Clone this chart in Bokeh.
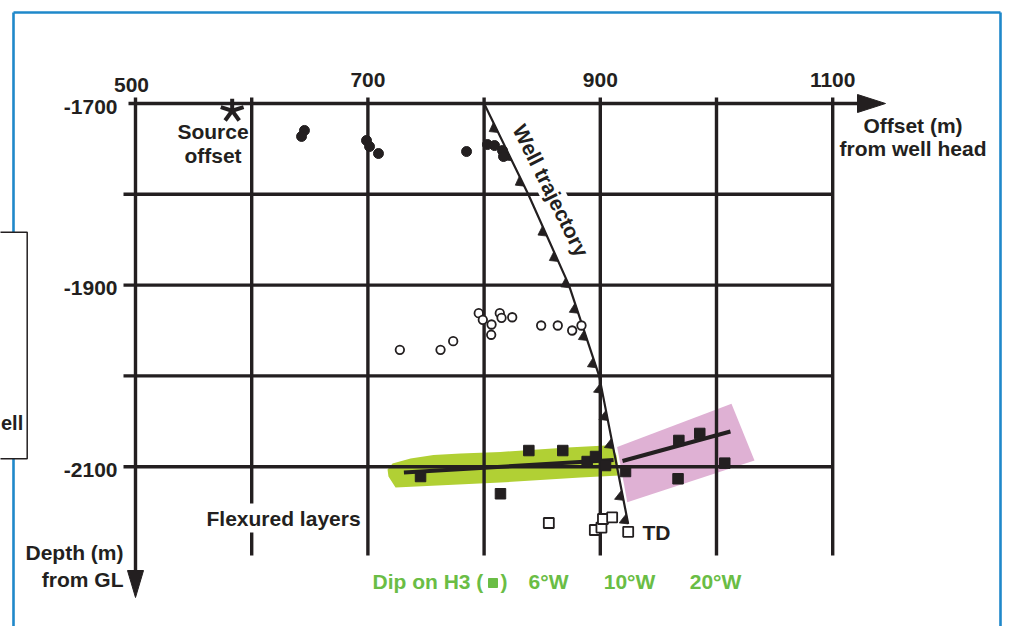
import numpy as np
from bokeh.plotting import figure
from bokeh.models import Range1d
from bokeh.embed import file_html
from bokeh.resources import INLINE
from bokeh.core.properties import value

# ---------------- data ----------------
x_grid = [500, 600, 700, 800, 900, 1000, 1100]          # offset grid (m)
y_grid = [-1700, -1800, -1900, -2000, -2100]             # depth grid (m)
x_label_vals = [500, 700, 900, 1100]
x_tick_labels = ["500", "700", "900", "1100"]
y_label_vals = [-1700, -1900, -2100]
y_tick_labels = ["-1700", "-1900", "-2100"]

source_x = [583.2]
source_y = [-1708.0]

# filled dots (shallow events)
dots_x = [645.4, 642.9, 698.8, 701.4, 709.1, 784.9, 802.9, 809.0, 815.8, 816.7]
dots_y = [-1729.7, -1736.3, -1740.7, -1747.4, -1755.1, -1752.9, -1745.2, -1746.3, -1751.8, -1758.4]

# open circles
circ_x = [727.5, 762.5, 773.4, 795.4, 798.9, 806.4, 806.1, 813.5, 815.0, 824.2, 849.1, 863.4, 875.8, 883.8]
circ_y = [-1971.3, -1971.3, -1961.8, -1930.9, -1938.2, -1943.4, -1954.7, -1930.9, -1936.0, -1935.4,
          -1944.5, -1944.5, -1950.0, -1944.5]

# filled squares (H3 reflection points)
h3_x = [745.3, 814.1, 838.5, 867.7, 888.7, 895.9, 904.5, 921.7, 967.6, 985.6, 1007.1, 966.9]
h3_y = [-2110.8, -2129.8, -2082.2, -2082.2, -2094.3, -2088.8, -2098.7, -2105.3, -2071.1, -2063.4,
        -2096.1, -2113.3]

# open squares (deep)
osq_x = [855.7, 895.3, 901.0, 902.3, 910.2, 924.0]
osq_y = [-2162.0, -2169.7, -2167.0, -2157.6, -2155.9, -2171.7]

# well trajectory
traj_x = [800, 838, 873, 899, 924]
traj_y = [-1700, -1800, -1900, -2000, -2163]
receiver_depths = [-1732, -1763, -1791, -1846, -1874, -1903, -1931, -1961, -1991,
                   -2019, -2049, -2080, -2137, -2163]

# dip fits
green_fit_x = [731.0, 911.4]
green_fit_y = [-2106.4, -2092.6]
pink_fit_x = [919.1, 1012.0]
pink_fit_y = [-2093.7, -2061.2]

green_band_x = [716.9, 721.2, 736.7, 756.5, 779.7, 814.1, 871.8, 904.5, 910.5, 913.9, 916.5, 883.0, 814.1, 723.8, 717.7]
green_band_y = [-2103.1, -2096.5, -2091.0, -2087.1, -2085.5, -2083.8, -2078.9, -2076.7, -2078.9, -2087.7,
                -2109.7, -2111.9, -2117.4, -2122.9, -2110.8]
pink_band_x = [914.5, 1012.9, 1032.7, 923.2]
pink_band_y = [-2078.3, -2030.7, -2093.2, -2139.1]

# ---------------- layout ----------------
W, H = 1004, 626
SX = 1.162   # px per metre (x)
SY = 0.908   # px per metre (y)
OFFX, OFFY = 0, 0
X0 = 500 - (135 - OFFX) / SX
X1 = X0 + W / SX
YT = -1700 + (103 - OFFY) / SY
YB = YT - H / SY


def ypx(py):
    """depth position of a reference pixel row (layout helper for labels)"""
    return -1700 - (py - 103) / SY


def xpx(px):
    return 500 + (px - 135) / SX


BLACK = "#231f20"
GREEN_TXT = "#6abd45"
FONT = value("Liberation Sans")

p = figure(width=W, height=H, x_range=Range1d(X0, X1), y_range=Range1d(YB, YT),
           output_backend="svg", toolbar_location=None, min_border=0,
           x_axis_location=None, y_axis_location=None)
p.grid.visible = False
p.outline_line_color = None
p.background_fill_color = "white"
p.border_fill_color = "white"

# blue frame
fl, fr, ft = xpx(13), xpx(1000), ypx(12)
p.multi_line(xs=[[fl, fl], [fl, fr], [fr, fr]], ys=[[YB - 20, ft], [ft, ft], [ft, YB - 20]],
             line_color="#1f88ca", line_width=2.6)

# left box (neighbouring figure)
p.quad(left=[X0 - 20], right=[xpx(26.7)], top=[ypx(231.7)], bottom=[ypx(458.3)],
       fill_color="white", line_color=BLACK, line_width=1.5)
p.text(x=[xpx(0.5)], y=[ypx(422.5)], text=["ell"], text_align="left", text_baseline="middle",
       text_font=FONT, text_font_style="bold", text_font_size="20px", text_color=BLACK)

# bands
p.patch(pink_band_x, pink_band_y, fill_color="#dfb1d4", line_color=None)
p.patch(green_band_x, green_band_y, fill_color="#b1d034", line_color=None)

# grid
v_top = ypx(97)
v_bot = ypx(555)
for xg in x_grid:
    bot = ypx(572) if xg == x_grid[0] else v_bot
    p.segment(x0=[xg], y0=[v_top], x1=[xg], y1=[bot], line_color=BLACK, line_width=3.4)
for yg in y_grid:
    if yg == y_grid[0]:
        p.segment(x0=[xpx(128)], y0=[yg], x1=[xpx(860)], y1=[yg], line_color=BLACK, line_width=3.4)
    else:
        p.segment(x0=[xpx(123)], y0=[yg], x1=[x_grid[-1]], y1=[yg], line_color=BLACK, line_width=3.4)

# axis arrows
p.patch([xpx(857), xpx(885), xpx(857)], [ypx(94), ypx(103), ypx(112)],
        fill_color=BLACK, line_color=BLACK)
p.patch([xpx(127), xpx(135), xpx(143)], [ypx(570), ypx(597), ypx(570)],
        fill_color=BLACK, line_color=BLACK)

# texts with white background (mask grid lines)
p.text(x=[xpx(203)], y=[ypx(517.5)], text=["Flexured layers"], text_align="left", text_baseline="middle",
       text_font=FONT, text_font_style="bold", text_font_size="21px", text_color=BLACK,
       background_fill_color="white", padding=3)
p.text(x=[xpx(550.5)], y=[ypx(190)], text=["Well trajectory"], angle=-63.5, angle_units="deg",
       text_align="center", text_baseline="middle",
       text_font=FONT, text_font_style="bold", text_font_size="21px", text_color=BLACK,
       background_fill_color="white", padding=1)

# well trajectory
p.line(traj_x, traj_y, line_color=BLACK, line_width=2.2)
ty = -np.array(traj_y, dtype=float)
tx = np.array(traj_x, dtype=float)
tri_xs, tri_ys = [], []
for d in receiver_depths:
    xb = float(np.interp(-d, ty, tx))
    yt = d + 10 / SY
    xt = float(np.interp(-yt, ty, tx))
    tri_xs.append([xb, xt, xb - 9 / SX])
    tri_ys.append([d, yt, d + 1 / SY])
p.patches(tri_xs, tri_ys, fill_color=BLACK, line_color=BLACK, line_width=0.8)

# fits
p.line(green_fit_x, green_fit_y, line_color=BLACK, line_width=4)
p.line(pink_fit_x, pink_fit_y, line_color=BLACK, line_width=4)

# markers
p.ray(x=source_x * 5, y=source_y * 5, length=12, length_units="screen",
      angle=[90, 162, 234, 306, 18], angle_units="deg", line_color=BLACK, line_width=4)
p.scatter(dots_x, dots_y, marker="circle", size=10, fill_color=BLACK, line_color=BLACK)
p.scatter(circ_x, circ_y, marker="circle", size=8.5, fill_color="white", line_color=BLACK, line_width=1.8)
p.scatter(h3_x, h3_y, marker="square", size=10.5, fill_color=BLACK, line_color=BLACK)
p.scatter(osq_x, osq_y, marker="square", size=10, fill_color="white", line_color=BLACK, line_width=1.8)

# tick labels
p.text(x=x_label_vals, y=[ypx(84.5), ypx(79.5), ypx(79.5), ypx(79.5)], text=x_tick_labels,
       x_offset=[-4, 0, 0, 0], text_align="center", text_baseline="middle",
       text_font=FONT, text_font_style="bold", text_font_size="21px", text_color=BLACK)
p.text(x=[xpx(117)] * 3, y=[v - 3 / SY for v in y_label_vals], text=y_tick_labels,
       text_align="right", text_baseline="middle",
       text_font=FONT, text_font_style="bold", text_font_size="21px", text_color=BLACK)


def label(px, py, t, align="center", color=BLACK):
    p.text(x=[xpx(px)], y=[ypx(py)], text=[t], text_align=align, text_baseline="middle",
           text_font=FONT, text_font_style="bold", text_font_size="21px", text_color=color)


label(212.5, 130.8, "Source")
label(212.5, 155.2, "offset")
label(912.5, 125.2, "Offset (m)")
label(912.5, 147.5, "from well head")
label(123, 552, "Depth (m)", "right")
label(123, 578.5, "from GL", "right")
label(642, 531.8, "TD", "left")

# dip legend
label(372, 580.8, "Dip on H3 (", "left", GREEN_TXT)
p.scatter([xpx(492.5)], [ypx(582.5)], marker="square", size=9, fill_color=GREEN_TXT, line_color=GREEN_TXT)
label(500, 580.8, ")", "left", GREEN_TXT)
label(548, 580.8, "6°W", "center", GREEN_TXT)
label(629, 580.8, "10°W", "center", GREEN_TXT)
label(715, 580.8, "20°W", "center", GREEN_TXT)

open("out.html", "w").write(file_html(p, INLINE))
